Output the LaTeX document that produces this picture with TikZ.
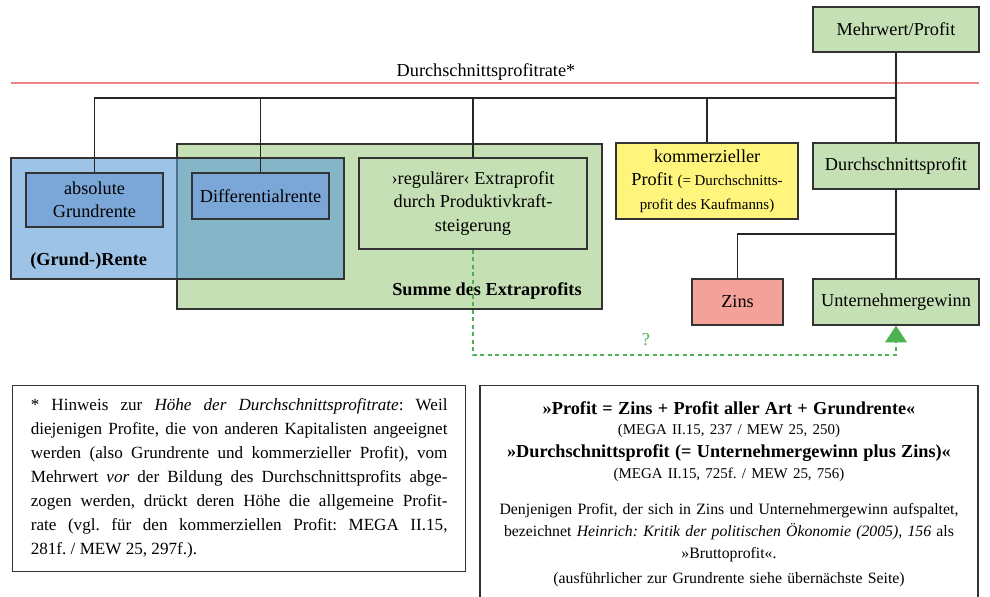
\documentclass[tikz,border=0pt]{standalone}
\usepackage{fontspec}
\setmainfont{Liberation Serif}
\usetikzlibrary{arrows.meta}
\frenchspacing
\definecolor{gruen}{HTML}{C5E0B4}
\definecolor{blau}{HTML}{5B9BD5}
\definecolor{blaubox}{HTML}{7BA7D8}
\definecolor{gelb}{HTML}{FFF57D}
\definecolor{rot}{HTML}{F4A19A}
\definecolor{ratelinie}{HTML}{EE8484}
\definecolor{pfeil}{HTML}{4DB34F}
\def\gross{\fontsize{11pt}{14bp}\selectfont}
\def\klein{\fontsize{9pt}{11bp}\selectfont}
\def\fett{\fontsize{11pt}{12bp}\selectfont\bfseries}
\def\conn{\draw[conn]}

\begin{document}
\begin{tikzpicture}[x=0.6bp,y=-0.6bp,
    box/.style={draw=black!80,line width=0.8pt,align=center,inner sep=0pt,font=\gross},
    boxsize/.style 2 args={minimum width=#1*0.6bp,minimum height=#2*0.6bp},
    conn/.style={line width=0.8pt,black!85},
    label/.style={font=\gross\bfseries,inner sep=0pt}]
  \useasboundingbox (0,0) rectangle (990,596);
  % Rate
  \coordinate (rateL) at (11,83);
  \coordinate (rateR) at (979,83);
  \draw[ratelinie,line width=0.8pt] (rateL) -- (rateR);
  \node[font=\gross,anchor=base,inner sep=0pt] (rate) at (486,76) {Durchschnittsprofitrate*};
  % grosse Felder
  \node[box,fill=gruen,boxsize={425}{165}] (extra) at (389.5,226.5) {};
  \node[box,fill=blau,fill opacity=0.6,boxsize={333}{121}] (rente) at (177.5,218.5) {};
  \node[label,anchor=base west] (rentelabel) at (30,265) {(Grund-)Rente};
  \node[label,anchor=base east] (extralabel) at (582,295) {Summe des Extraprofits};
  % Kaestchen
  \node[box,fill=blaubox,boxsize={137}{54}] (absolut) at (94.5,200) {absolute\\Grundrente};
  \node[box,fill=blaubox,boxsize={137}{46}] (differential) at (260.5,196) {Differentialrente};
  \node[box,fill=gruen,boxsize={228}{91}] (regulaer) at (473,203.5) {›regulärer‹ Extraprofit\\durch Produktivkraft-\\steigerung};
  \node[box,fill=gelb,boxsize={182}{76}] (kommerz) at (707,181) {kommerzieller\\Profit {\klein(= Durchschnitts-}\\{\klein profit des Kaufmanns)}};
  \node[box,fill=gruen,boxsize={166}{45}] (mehrwert) at (896,29.5) {Mehrwert/Profit};
  \node[box,fill=gruen,boxsize={166}{46}] (durchschnitt) at (896,166) {Durchschnittsprofit};
  \node[box,fill=rot,boxsize={91}{46}] (zins) at (737.5,302) {Zins};
  \node[box,fill=gruen,boxsize={166}{46}] (unternehmer) at (896,302) {Unternehmergewinn};
  % Verbindungen
  \coordinate (bus) at (0,98);
  \coordinate (split) at (896,234);
  \conn (mehrwert.south) |- (bus -| absolut.north) -- (absolut.north);
  \foreach \n in {differential,regulaer,kommerz,durchschnitt}
    \conn (bus -| \n.north) -- (\n.north);
  \conn (durchschnitt.south) -- (unternehmer.north);
  \conn (split) -| (zins.north);
  \coordinate (dashlevel) at (0,355);
  \draw[pfeil,dash pattern=on 2.5bp off 2bp,line width=0.8pt,-{Triangle[width=13bp,length=10bp]}]
    (regulaer.south) -- (regulaer.south |- dashlevel) -| (unternehmer.south);
  \node[text=pfeil,font=\gross,inner sep=0pt] (frage) at (646,340) {?};
  % Textfelder
  \node[box,anchor=north west,text width=250bp,inner xsep=10.9bp,minimum height=111.6bp,
        align=justify,font=\fontsize{10.3pt}{14.4bp}\selectfont] (hinweis) at (12,385)
    {* Hinweis zur \textit{Höhe der Durchschnittsprofitrate}: Weil\linebreak
     diejenigen Profite, die von anderen Kapitalisten angeeignet\linebreak
     werden (also Grundrente und kommerzieller Profit), vom\linebreak
     Mehrwert \textit{vor} der Bildung des Durchschnittsprofits abge-\linebreak
     zogen werden, drückt deren Höhe die allgemeine Profit-\linebreak
     rate (vgl. für den kommerziellen Profit: MEGA II.15,\linebreak
     281f. / MEW 25, 297f.).};
  \node[box,anchor=north,text width=288.8bp,inner xsep=5bp,inner ysep=9.7bp,
        font=\fontsize{9.5pt}{12bp}\selectfont] (zitate) at (729,385)
    {{\fett »Profit = Zins + Profit aller Art + Grundrente«}\\
     {\klein (MEGA II.15, 237 / MEW 25, 250)}\\[1.8bp]
     {\fett »Durchschnittsprofit (= Unternehmergewinn plus Zins)«}\\[0.6bp]
     {\klein (MEGA II.15, 725f. / MEW 25, 756)}\\[9.6bp]
     Denjenigen Profit, der sich in Zins und Unternehmergewinn aufspaltet,\\[1.2bp]
     bezeichnet \textit{Heinrich: Kritik der politischen Ökonomie (2005), 156} als\\[1.2bp]
     »Bruttoprofit«.\\[3bp]
     (ausführlicher zur Grundrente siehe übernächste Seite)\\[40bp]\mbox{}};
\end{tikzpicture}
\end{document}
